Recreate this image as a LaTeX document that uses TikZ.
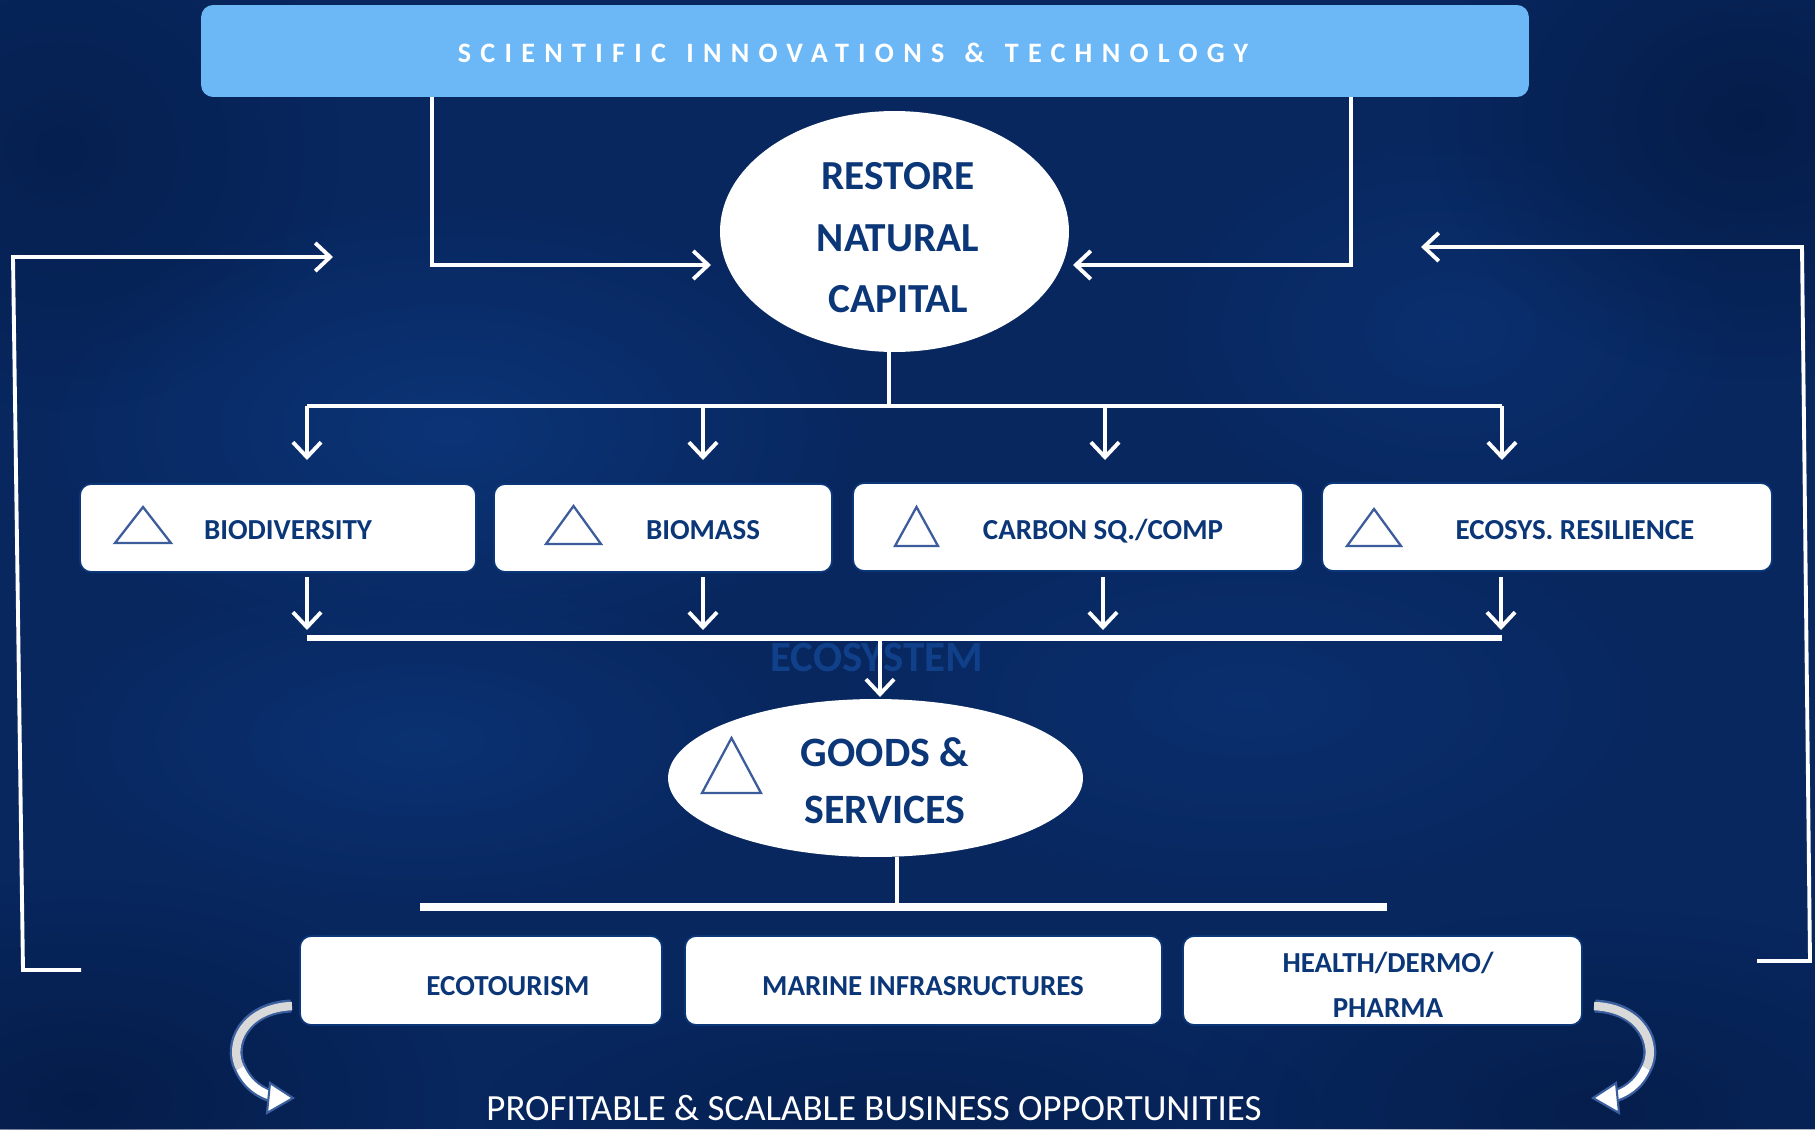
\documentclass[tikz,border=0pt]{standalone}
\usepackage{fontspec}
\setmainfont{Carlito}
\newfontfamily\spacedfont[LetterSpace=33,WordSpace=1.3]{Carlito}
\usetikzlibrary{arrows.meta,shapes.geometric,fadings}
\tikzfading[name=softblob,inner color=transparent!0,outer color=transparent!100]
\definecolor{bg}{HTML}{08275F}
\definecolor{bglight}{HTML}{0F3F8A}
\definecolor{bgdark}{HTML}{031840}
\definecolor{navy}{HTML}{0B3677}
\definecolor{tri}{HTML}{3C5C9C}
\definecolor{bannerblue}{HTML}{6CB7F6}
\definecolor{ecotext}{HTML}{11408A}
\definecolor{cblue}{HTML}{3A5E9E}
\begin{document}
\begin{tikzpicture}[x=0.02cm,y=-0.02cm,
  ln/.style={white,line width=2pt},
  arr/.style={white,line width=2.2pt,-{Straight Barb[length=8.5pt,width=16pt]}},
  bar/.style={white,line width=3.4pt},
  whitebox/.style={rectangle,rounded corners=0.22cm,fill=white,draw=navy,line width=1pt,minimum height=1.76cm,inner sep=0pt},
  whiteell/.style={ellipse,fill=white,draw=none,inner sep=0pt},
  boxtext/.style={text=navy,font=\bfseries\fontsize{16.5}{25.5}\selectfont,anchor=base,inner sep=0pt},
  bigtext/.style={text=navy,font=\bfseries\fontsize{23.5}{35}\selectfont,align=center,inner sep=0pt},
  tristyle/.style={draw=tri,line width=1.3pt,line join=miter}
]
\useasboundingbox (0,0) rectangle (1815,1129);
% background
\fill[bg] (0,0) rectangle (1815,1129);
\fill[bglight,path fading=softblob,fill opacity=0.55] (450,430) ellipse (420 and 230);
\fill[bglight,path fading=softblob,fill opacity=0.45] (420,740) ellipse (380 and 170);
\fill[bglight,path fading=softblob,fill opacity=0.35] (1250,700) ellipse (420 and 200);
\fill[bglight,path fading=softblob,fill opacity=0.35] (1450,330) ellipse (300 and 200);
\fill[bgdark,path fading=softblob,fill opacity=0.7] (1750,120) ellipse (320 and 260);
\fill[bgdark,path fading=softblob,fill opacity=0.7] (80,1100) ellipse (380 and 220);
\fill[bgdark,path fading=softblob,fill opacity=0.6] (1600,1110) ellipse (420 and 200);
\fill[bgdark,path fading=softblob,fill opacity=0.5] (60,150) ellipse (280 and 260);
\fill[bgdark,path fading=softblob,fill opacity=0.4] (900,1110) ellipse (420 and 120);

% banner
\node[rectangle,rounded corners=0.24cm,fill=bannerblue,minimum width=26.56cm,minimum height=1.84cm,inner sep=0pt] (banner) at (865,51) {};
\node[text=white,font=\spacedfont\bfseries\fontsize{16}{16}\selectfont,inner sep=0pt] (bannertext) at (853,53) {SCIENTIFIC INNOVATIONS \& TECHNOLOGY};

% restore natural capital
\node[whiteell,minimum width=6.98cm,minimum height=4.82cm] (rnc) at (894.5,231.5) {};
\node[bigtext] (rnctext) at (898,238) {RESTORE\\NATURAL\\CAPITAL};

% arrows from banner
\coordinate (tL) at (432,97);
\coordinate (inL) at (711,265);
\coordinate (tR) at (1351,97);
\coordinate (inR) at (1073,265);
\draw[arr] (tL) |- (inL);
\draw[arr] (tR) |- (inR);

% feedback loops
\coordinate (lb) at (81,970);
\coordinate (lc1) at (23,970);
\coordinate (lc2) at (13,257);
\coordinate (lt) at (333,257);
\draw[arr] (lb) -- (lc1) -- (lc2) -- (lt);
\coordinate (rb) at (1757,961);
\coordinate (rc1) at (1810,961);
\coordinate (rc2) at (1802,247);
\coordinate (rt) at (1421,247);
\draw[arr] (rb) -- (rc1) -- (rc2) -- (rt);

% distribution to first row
\coordinate (hub1) at (889,406);
\draw[ln] (hub1 |- rnc.south) -- (hub1);
\coordinate (d1) at (307,406);
\coordinate (d4) at (1502,406);
\draw[ln] (d1) -- (d4);
\foreach \x/\n in {307/1,703/2,1105/3,1502/4}{
  \coordinate (dt\n) at (\x,406);
  \coordinate (de\n) at (\x,460);
  \draw[arr] (dt\n) -- (de\n);
}

% first row boxes
\node[whitebox,minimum width=7.92cm] (b1) at (278,528) {};
\node[whitebox,minimum width=6.76cm] (b2) at (663,528) {};
\node[whitebox,minimum width=9.0cm] (b3) at (1078,527) {};
\node[whitebox,minimum width=9.0cm] (b4) at (1547,527) {};
\node[boxtext] (b1t) at (288,539) {BIODIVERSITY};
\node[boxtext] (b2t) at (703,539) {BIOMASS};
\node[boxtext] (b3t) at (1103,539) {CARBON SQ./COMP};
\node[boxtext] (b4t) at (1575,539) {ECOSYS. RESILIENCE};
\draw[tristyle] (115,543) -- (143,507) -- (171,543) -- cycle;
\draw[tristyle] (546,544) -- (573.5,506) -- (601,544) -- cycle;
\draw[tristyle] (895,546) -- (916.5,507) -- (938,546) -- cycle;
\draw[tristyle] (1347,546) -- (1374,509) -- (1401,546) -- cycle;

% arrows from first row
\foreach \x/\n in {307/1,703/2,1103/3,1501/4}{
  \coordinate (us\n) at (\x,577);
  \coordinate (ue\n) at (\x,630);
  \draw[arr] (us\n) -- (ue\n);
}
\coordinate (e1) at (307,638);
\coordinate (e4) at (1502,638);
\draw[bar] (e1) -- (e4);

% ecosystem label
\node[text=ecotext,font=\bfseries\fontsize{24.5}{24.5}\selectfont,anchor=base,inner sep=0pt] (eco) at (877,671) {ECOSYSTEM};
\coordinate (hub2) at (880,638);
\coordinate (gin) at (880,697);
\draw[arr] (hub2) -- (gin);

% goods & services
\node[whiteell,minimum width=8.3cm,minimum height=3.16cm] (goods) at (875.5,778) {};
\node[bigtext,font=\bfseries\fontsize{23.8}{32.3}\selectfont] (goodstext) at (885,781) {GOODS \&\\SERVICES};
\draw[tristyle] (702,793) -- (731.5,738) -- (761,793) -- cycle;

\coordinate (hub3) at (897,907);
\draw[ln] (hub3 |- goods.south) -- (hub3);
\coordinate (f1) at (420,907);
\coordinate (f2) at (1387,907);
\draw[white,line width=4.5pt] (f1) -- (f2);

% bottom row
\node[whitebox,minimum width=7.24cm,minimum height=1.78cm] (c1) at (481,980.5) {};
\node[whitebox,minimum width=9.54cm,minimum height=1.78cm] (c2) at (923.5,980.5) {};
\node[whitebox,minimum width=7.98cm,minimum height=1.78cm] (c3) at (1382.5,980.5) {};
\node[boxtext] (c1t) at (508,995) {ECOTOURISM};
\node[boxtext] (c2t) at (923,995) {MARINE INFRASRUCTURES};
\node[boxtext,anchor=center,align=center] (c3t) at (1388,985) {HEALTH/DERMO/\\PHARMA};

% curved arrows
\begin{scope}
  \draw[cblue,line width=7.4pt] (291,1006) .. controls (244,1008) and (228,1045) .. (240,1068) .. controls (248,1085) and (260,1093) .. (274,1097);
  \draw[gray!30,line width=4.8pt] (292,1006) .. controls (244,1008) and (228,1045) .. (240,1068);
  \draw[white,line width=4.8pt] (240,1068) .. controls (248,1085) and (260,1093) .. (275,1097);
  \filldraw[fill=white,draw=cblue,line width=1.2pt,line join=miter] (270,1083) -- (293,1098) -- (267,1113) -- cycle;
\end{scope}
\begin{scope}[shift={(1886,0)},xscale=-1]
  \draw[cblue,line width=7.4pt] (291,1006) .. controls (244,1008) and (228,1045) .. (240,1068) .. controls (248,1085) and (260,1093) .. (274,1097);
  \draw[gray!30,line width=4.8pt] (292,1006) .. controls (244,1008) and (228,1045) .. (240,1068);
  \draw[white,line width=4.8pt] (240,1068) .. controls (248,1085) and (260,1093) .. (275,1097);
  \filldraw[fill=white,draw=cblue,line width=1.2pt,line join=miter] (270,1083) -- (293,1098) -- (267,1113) -- cycle;
\end{scope}

% bottom caption
\node[text=white,font=\fontsize{21}{21}\selectfont,anchor=base,inner sep=0pt] (caption) at (874,1120) {PROFITABLE \& SCALABLE BUSINESS OPPORTUNITIES};
\end{tikzpicture}
\end{document}
